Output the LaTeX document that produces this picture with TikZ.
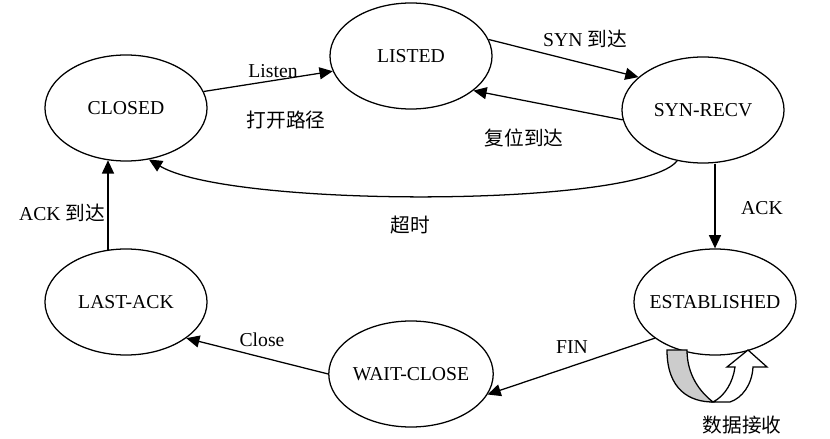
\documentclass[tikz,border=0pt]{standalone}
\usepackage{fontspec}
\setmainfont{Liberation Serif}
\newfontfamily\cjk{Noto Sans CJK SC}
\usetikzlibrary{shapes.geometric,arrows.meta,calc,positioning}
\tikzset{
	state/.style={draw, ellipse, line width=0.9pt, minimum width=4.05cm, minimum height=2.65cm, inner sep=0pt},
	trans/.style={line width=0.9pt, -{Triangle[length=3.3mm,width=3mm]}},
	lbl/.style={inner sep=0pt}
}
\begin{document}
\begin{tikzpicture}[x=0.025cm, y=-0.025cm, font=\fontsize{14}{16}\selectfont]
			\useasboundingbox (0,0) rectangle (830,439);
			\node[state] (closed) at (126,108) {CLOSED};
			\node[state] (listed) at (411,56) {LISTED};
			\node[state] (synrecv) at (703,110) {SYN-RECV};
			\node[state, inner xsep=-0.25cm] (estab) at (715,302) {ESTABLISHED};
			\node[state] (waitclose) at (411,374) {WAIT-CLOSE};
			\node[state] (lastack) at (126,302) {LAST-ACK};
			\draw[trans] (closed.12) -- (listed.191);
			\draw[trans] (listed.12) -- (synrecv.153);
			\draw[trans] (synrecv.187) -- (listed.331);
			\draw[trans] (synrecv.243) .. controls (640,208) and (230,208) .. (closed.294);
			\draw[trans] (estab.north |- synrecv.south) -- (estab.north);
			\draw[trans] (estab.211) -- (waitclose.345);
			\draw[trans] (waitclose.180) -- (lastack.329);
			\draw[trans] (lastack.109) -- (closed.251);
			\draw[line width=0.9pt, fill=gray!40] (667,350) .. controls (667,390) and (690,402) .. (713,402) .. controls (700,392) and (687,375) .. (687,350) -- cycle;
			\draw[line width=0.9pt, fill=white] (713,402) -- (730,402) .. controls (742,398) and (752,385) .. (753,367) -- (767,367) -- (748,350) -- (727,367) -- (735,367) .. controls (733,382) and (725,396) .. (713,402) -- cycle;
			\node[lbl] (listen) at (273,71) {Listen};
			\node[lbl] (openpath) at (286,120) {\cjk 打开路径};
			\node[lbl] (synarr) at (585,39) {SYN {\cjk 到达}};
			\node[lbl] (rstarr) at (524,138) {\cjk 复位到达};
			\node[lbl] (timeout) at (410,225) {\cjk 超时};
			\node[lbl] (ack) at (762,208) {ACK};
			\node[lbl] (fin) at (572,347) {FIN};
			\node[lbl] (close) at (262,340) {Close};
			\node[lbl] (ackarr) at (62,213) {ACK {\cjk 到达}};
			\node[lbl] (datarecv) at (742,425) {\cjk 数据接收};
	\end{tikzpicture}
\end{document}
